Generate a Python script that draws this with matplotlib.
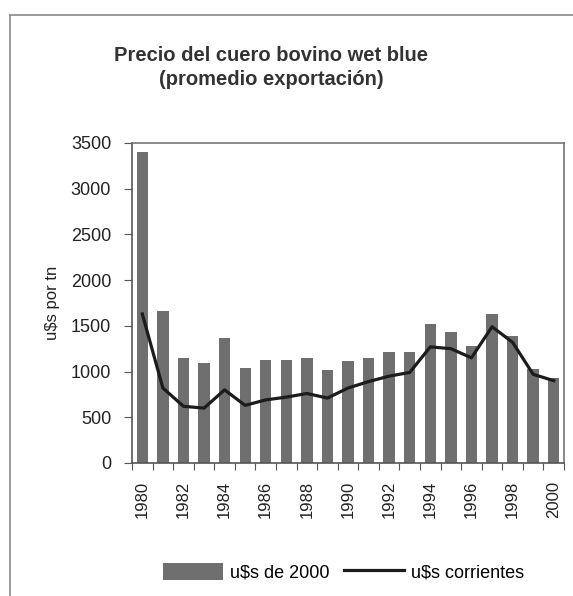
import matplotlib.pyplot as plt
from matplotlib.lines import Line2D

years = list(range(1980, 2001))
usd_2000 = [3400, 1660, 1150, 1090, 1370, 1040, 1130, 1130, 1150, 1020, 1110,
            1150, 1210, 1210, 1520, 1430, 1275, 1625, 1385, 1030, 930]
usd_corrientes = [1630, 820, 620, 600, 800, 630, 690, 720, 760, 710, 820,
                  890, 950, 990, 1270, 1250, 1150, 1490, 1320, 970, 900]
year_labels = [str(y) for y in years[::2]]

plt.rcParams['font.family'] = ['Liberation Sans', 'DejaVu Sans']

fig = plt.figure(figsize=(5.73, 5.96), dpi=100)
ax = fig.add_axes([0.2304, 0.2232, 0.7539, 0.5369])

x = list(range(len(years)))
bars = ax.bar(x, usd_2000, width=0.55, color='#6f6f6f', label='u$s de 2000', zorder=2)
line, = ax.plot(x, usd_corrientes, color='#1c1c1c', linewidth=2.3, label='u$s corrientes', zorder=3)

ax.set_xlim(-0.5, len(years) - 0.5)
ax.set_ylim(0, 3500)
ax.set_yticks(range(0, 3501, 500))

# tick marks between categories, labels on every second year
ax.set_xticks([i - 0.5 for i in range(len(years) + 1)])
ax.set_xticklabels([])
ax.set_xticks(x[::2], minor=True)
ax.set_xticklabels(year_labels, minor=True, rotation=90, fontsize=12, color='#222222')
ax.tick_params(axis='x', which='major', direction='out', length=5, color='#555555')
ax.tick_params(axis='x', which='minor', length=0, pad=13)
ax.tick_params(axis='y', direction='out', length=6, pad=9, labelsize=13,
               color='#555555', labelcolor='#222222')

for s in ax.spines.values():
    s.set_color('#777777')
    s.set_linewidth(1.2)
ax.spines['left'].set_color('#555555')
ax.spines['bottom'].set_color('#555555')

ax.set_ylabel('u$s por tn', fontsize=12, color='#222222', labelpad=8)

fig.text(0.473, 0.887, 'Precio del cuero bovino wet blue\n(promedio exportación)',
         ha='center', va='center', fontsize=14.5, fontweight='bold', color='#333333',
         linespacing=1.35)

fig.legend([bars, line], ['u$s de 2000', 'u$s corrientes'],
           loc='center', bbox_to_anchor=(0.6, 0.04), ncol=2, frameon=False,
           fontsize=13, handlelength=3.3, handleheight=1.1, handletextpad=0.4,
           columnspacing=0.8)

# outer frame of the original chart area
fig.add_artist(Line2D([10 / 573, 10 / 573], [0, 1 - 15 / 596], transform=fig.transFigure,
                      color='#8a8a8a', linewidth=1.2))
fig.add_artist(Line2D([10 / 573, 1], [1 - 15 / 596, 1 - 15 / 596], transform=fig.transFigure,
                      color='#8a8a8a', linewidth=1.2))

fig.savefig('out.png', dpi=100)
